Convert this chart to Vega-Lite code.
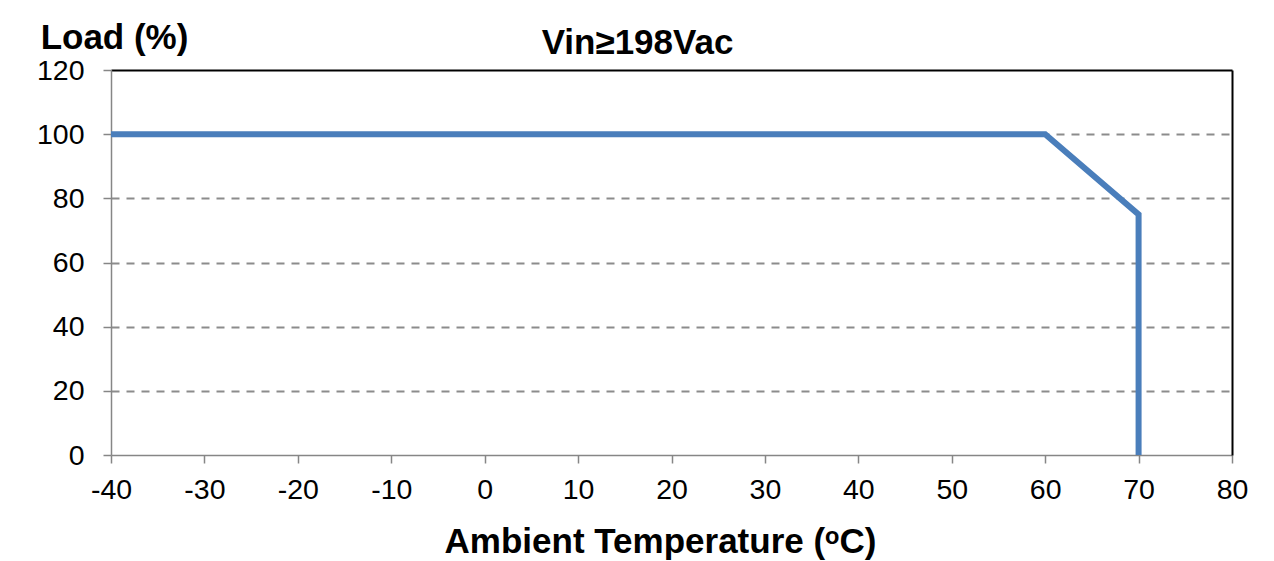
{
  "$schema": "https://vega.github.io/schema/vega-lite/v6.json",
  "width": 1121,
  "height": 385,
  "autosize": "none",
  "padding": {"left": 111, "top": 70, "right": 42, "bottom": 106},
  "background": "white",
  "config": {"view": {"stroke": null}, "font": "Liberation Sans"},
  "data": {"values": [
    {"temp": -40, "load": 100, "order": 1},
    {"temp": 60, "load": 100, "order": 2},
    {"temp": 70, "load": 75, "order": 3},
    {"temp": 70, "load": 0, "order": 4}
  ]},
  "layer": [
    {
      "mark": {"type": "line", "color": "#4a7ebb", "strokeWidth": 6, "strokeJoin": "miter", "clip": false},
      "encoding": {
        "order": {"field": "order", "type": "quantitative"},
        "x": {"field": "temp", "type": "quantitative",
          "scale": {"domain": [-40, 80], "nice": false, "zero": false},
          "axis": {"orient": "bottom", "values": [-40,-30,-20,-10,0,10,20,30,40,50,60,70,80],
            "labelExpr": "'' + datum.value", "labelFlush": false, "labelOverlap": false,
            "domainColor": "#868686", "domainWidth": 1.5, "tickColor": "#868686", "tickWidth": 1.5, "tickSize": 8,
            "labelFontSize": 28.5, "labelColor": "black", "labelPadding": 12, "labelFont": "Liberation Sans",
            "grid": false,
            "title": "Ambient Temperature (ᵒC)", "titleFontSize": 35, "titleFontWeight": "bold", "titleColor": "black",
            "titleX": 549, "titleY": 97, "titleBaseline": "alphabetic", "titleAlign": "center", "titleFont": "Liberation Sans"}},
        "y": {"field": "load", "type": "quantitative",
          "scale": {"domain": [0, 120], "nice": false},
          "axis": {"orient": "left", "values": [0,20,40,60,80,100,120],
            "labelExpr": "'' + datum.value", "labelFlush": false, "labelOverlap": false,
            "domainColor": "#868686", "domainWidth": 1.5, "tickColor": "#868686", "tickWidth": 1.5, "tickSize": 8,
            "labelFontSize": 28.5, "labelColor": "black", "labelPadding": 19, "labelFont": "Liberation Sans",
            "grid": true, "gridColor": "#8c8c8c", "gridWidth": 2, "gridDash": [8, 7],
            "gridOpacity": {"condition": {"test": "datum.value === 0 || datum.value === 120", "value": 0}, "value": 1},
            "title": "Load (%)", "titleAngle": 0, "titleFontSize": 35, "titleFontWeight": "bold", "titleColor": "black",
            "titleX": 3, "titleY": -22, "titleBaseline": "alphabetic", "titleAlign": "center", "titleFont": "Liberation Sans"}}
      }
    },
    {
      "mark": {"type": "line", "opacity": 0},
      "encoding": {
        "order": {"field": "order", "type": "quantitative"},
        "x": {"field": "temp", "type": "quantitative",
          "scale": {"domain": [-40, 80], "nice": false, "zero": false},
          "axis": {"orient": "top", "domainColor": "black", "domainWidth": 2, "ticks": false, "labels": false, "grid": false,
            "title": "Vin≥198Vac", "titleFontSize": 35, "titleFontWeight": "bold", "titleColor": "black",
            "titleX": 526, "titleY": -17, "titleBaseline": "alphabetic", "titleAlign": "center", "titleFont": "Liberation Sans"}},
        "y": {"field": "load", "type": "quantitative",
          "scale": {"domain": [0, 120], "nice": false},
          "axis": {"orient": "right", "domainColor": "black", "domainWidth": 2, "ticks": false, "labels": false, "grid": false, "title": null}}
      }
    }
  ],
  "resolve": {"axis": {"x": "independent", "y": "independent"}}
}
